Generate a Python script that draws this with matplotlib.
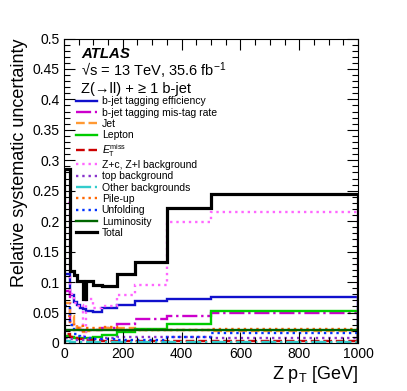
import matplotlib
matplotlib.use("Agg")
import matplotlib.pyplot as plt
from matplotlib.lines import Line2D
from matplotlib.ticker import MultipleLocator

plt.rcParams["font.family"] = ["Liberation Sans", "DejaVu Sans"]
plt.rcParams["mathtext.fontset"] = "custom"
plt.rcParams["mathtext.rm"] = "Liberation Sans"
plt.rcParams["mathtext.it"] = "Liberation Sans:italic"

# Z pT bin edges [GeV]
edges = [0, 20, 35, 45, 55, 65, 75, 100, 130, 180, 240, 350, 500, 1000]

btag_eff = [0.113, 0.078, 0.068, 0.062, 0.058, 0.055, 0.053, 0.051, 0.057, 0.063, 0.069, 0.072, 0.075]
btag_mistag = [0.085, 0.035, 0.028, 0.025, 0.022, 0.020, 0.022, 0.022, 0.025, 0.031, 0.040, 0.044, 0.050]
jet = [0.065, 0.045, 0.030, 0.025, 0.020, 0.018, 0.020, 0.022, 0.025, 0.024, 0.022, 0.021, 0.020]
lepton = [0.012, 0.010, 0.009, 0.009, 0.009, 0.009, 0.009, 0.010, 0.013, 0.018, 0.023, 0.031, 0.053]
etmiss = [0.015, 0.010, 0.008, 0.007, 0.006, 0.006, 0.005, 0.005, 0.004, 0.004, 0.004, 0.004, 0.003]
zc_zl = [0.230, 0.080, 0.065, 0.060, 0.062, 0.012, 0.073, 0.058, 0.061, 0.079, 0.096, 0.199, 0.215]
top_bkg = [0.008, 0.006, 0.005, 0.005, 0.005, 0.005, 0.006, 0.007, 0.008, 0.010, 0.010, 0.010, 0.009]
other_bkg = [0.003, 0.002, 0.002, 0.002, 0.002, 0.002, 0.002, 0.002, 0.002, 0.002, 0.002, 0.002, 0.002]
pileup = [0.045, 0.030, 0.022, 0.025, 0.028, 0.020, 0.024, 0.025, 0.027, 0.022, 0.021, 0.022, 0.023]
unfolding = [0.060, 0.030, 0.015, 0.012, 0.010, 0.010, 0.008, 0.006, 0.006, 0.005, 0.005, 0.010, 0.016]
luminosity = [0.021] * 13
total = [0.285, 0.119, 0.111, 0.102, 0.101, 0.073, 0.101, 0.095, 0.094, 0.114, 0.133, 0.221, 0.245]

series = [
    ("b-jet tagging efficiency", btag_eff, "#1010CC", "-", 1.7),
    ("b-jet tagging mis-tag rate", btag_mistag, "#CC00CC", "-.", 1.7),
    ("Jet", jet, "#FF9933", "--", 1.7),
    ("Lepton", lepton, "#00CC00", "-", 1.7),
    (r"$E_{\mathrm{T}}^{\mathrm{miss}}$", etmiss, "#CC0000", "--", 1.7),
    ("Z+c, Z+l background", zc_zl, "#FF66FF", ":", 1.7),
    ("top background", top_bkg, "#8833CC", ":", 1.7),
    ("Other backgrounds", other_bkg, "#33CCCC", "-.", 1.7),
    ("Pile-up", pileup, "#FF6600", ":", 1.7),
    ("Unfolding", unfolding, "#0033FF", ":", 1.7),
    ("Luminosity", luminosity, "#006600", "-", 1.7),
    ("Total", total, "black", "-", 2.3),
]

fig = plt.figure(figsize=(4.07, 3.91), dpi=100)
ax = fig.add_axes([0.157, 0.1228, 0.723, 0.7787])

handles = []
for label, vals, color, ls, lw in series:
    ax.stairs(vals, edges, baseline=0, color=color, linestyle=ls, linewidth=lw)
    handles.append(Line2D([], [], color=color, linestyle=ls, linewidth=lw, label=label))

ax.set_xlim(0, 1000)
ax.set_ylim(0, 0.5)
ax.xaxis.set_major_locator(MultipleLocator(200))
ax.xaxis.set_minor_locator(MultipleLocator(50))
ax.yaxis.set_major_locator(MultipleLocator(0.05))
ax.yaxis.set_minor_locator(MultipleLocator(0.01))
ax.yaxis.set_major_formatter(lambda v, p: "0" if abs(v) < 1e-9 else "{:g}".format(round(v, 2)))
ax.tick_params(which="both", direction="in", top=True, right=True, labelsize=10, pad=3)
ax.tick_params(which="major", length=8, width=0.8)
ax.tick_params(which="minor", length=4, width=0.8)

ax.set_xlabel(r"Z p$_{\mathrm{T}}$ [GeV]", fontsize=13, ha="right", x=1.0, labelpad=2)
ax.set_ylabel("Relative systematic uncertainty", fontsize=13, ha="right", y=1.0, labelpad=3)

ax.text(0.058, 0.972, "ATLAS", transform=ax.transAxes, fontsize=10.8, fontweight="bold", style="italic", va="top")
ax.text(0.058, 0.928, "\u221as = 13 TeV, 35.6 fb$^{-1}$", transform=ax.transAxes, fontsize=10.5, va="top")
ax.text(0.058, 0.856, "Z(\u2192ll) + \u2265 1 b-jet", transform=ax.transAxes, fontsize=10.5, va="top")

ax.legend(handles=handles, loc="upper left", bbox_to_anchor=(0.04, 0.81), frameon=False, fontsize=7.5,
          handlelength=2.0, handletextpad=0.5, labelspacing=0.13, borderaxespad=0, borderpad=0)

fig.savefig("out.png", dpi=100)
